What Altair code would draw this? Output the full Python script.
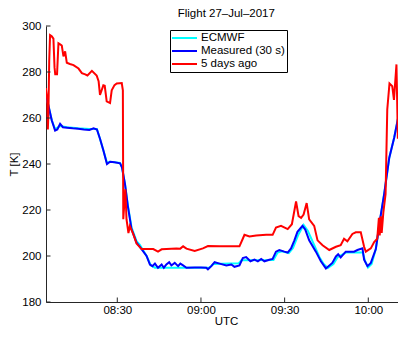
import altair as alt
import pandas as pd

# ---------------- data (minutes after 08:00 UTC, temperature in K) ----------------
chart_title = "Flight 27\u2013Jul\u20132017"
series_names = ["ECMWF", "Measured (30 s)", "5 days ago"]
series_colors = ["#00ffff", "#0000ff", "#ff0000"]

ecmwf_min = [4.4, 5.2, 6.5, 7.7, 9.5, 12, 16, 20, 22.7, 23.8, 25, 26.3, 27.4, 31, 31.7, 32.75,
             33.8, 35.1, 36.9, 38.1, 40.5, 42, 43.5, 63, 64.5, 73.5, 74.5, 86, 87.5, 89, 91.5,
             93, 95, 96.8, 98.3, 100.5, 102.5, 104, 105.5, 107.5, 109, 110.5, 112, 118, 118.8,
             119.9, 121.2, 122.7, 124.4, 125.7, 127.5, 129.3, 131, 132.75, 133.5]
ecmwf_T = [270, 266, 259, 255.2, 256.5, 256, 255.5, 255.2, 255.2, 251, 246, 240.5, 241, 240.5,
           238.5, 231.4, 222, 212.5, 206.5, 204.8, 200, 196, 194.9, 194.9, 196.5, 196.8, 198.2,
           198.3, 201.5, 202, 201.2, 203.5, 209.5, 213.5, 211, 205, 199.5, 196.5, 194.8, 196.5,
           199.5, 200.5, 201.5, 201.5, 198, 195, 196.5, 203, 217, 227, 242.6, 251.5, 262, 270.6,
           272]

meas_min = [4.4, 5.2, 6.5, 7.7, 8.5, 9.5, 10.5, 12, 14, 16, 18, 20, 21.5, 22.7, 23.8, 25, 26.3,
            27.4, 29, 31, 31.7, 32.75, 33.8, 35.1, 36.9, 38.1, 40.5, 41.7, 42.6, 43.5, 44.6,
            45.9, 46.7, 47.6, 48.6, 49.4, 50.6, 51.8, 52.6, 53.6, 54.8, 57.75, 60, 61.9, 62.5,
            63.7, 64.9, 66.7, 69.1, 70.9, 72, 73.8, 75, 76.2, 77.75, 79.2, 80.4, 81.6, 82.75,
            84.5, 85.7, 86.9, 88.1, 89.9, 91.1, 92.3, 93.5, 94.6, 96.4, 97.4, 98.8, 101.2, 103,
            104.8, 107.1, 108.4, 109.2, 110.1, 111.9, 114.9, 116.1, 117.9, 118.5, 119.7, 120.9,
            122.7, 124.4, 125.7, 127.5, 129.3, 131, 132.75, 133.5]
meas_T = [270.5, 266, 259, 254.5, 255, 257.5, 256, 255.8, 255.5, 255.3, 255, 254.8, 255.5, 255,
          251, 246, 240, 241, 240.8, 240.3, 238.5, 231.4, 221.6, 211.7, 205.8, 204, 200, 196.3,
          195.6, 196.7, 194.9, 196.3, 194.9, 196.3, 197.3, 195.9, 197, 195.6, 196.7, 195.9,
          194.9, 195, 195, 194.9, 194.2, 195.6, 197.3, 196.7, 195.9, 196.3, 195.3, 195.9, 199.1,
          199.5, 197.7, 198.4, 197.7, 198.7, 197.7, 198.4, 198.7, 201.9, 202.6, 201.9, 201.5,
          203.3, 206.8, 210.5, 213.1, 211.5, 206.8, 201.9, 197.7, 194.6, 197, 199.8, 200.8,
          199.4, 201.9, 201.9, 202.6, 203.3, 198.4, 195.6, 197, 203, 217.3, 227, 242.6, 251.5,
          262, 270.6, 272]

ago_min = [4.4, 4.9, 5.1, 5.3, 5.6, 5.9, 6.5, 7.1, 7.5, 7.75, 8.4, 8.9, 9.5, 10.1, 10.7, 11.3,
           11.9, 13, 14.3, 16.1, 17.3, 18.5, 19.3, 20.9, 22.6, 23.3, 23.8, 25, 25.5, 26.2, 27.4,
           28, 29, 29.8, 31.6, 32.0, 32.15, 32.6, 32.9, 33.3, 34, 34.5, 35.7, 36.9, 38.7, 42.9,
           44.6, 45.9, 51.2, 52.6, 53.6, 54.8, 57.75, 60.7, 62.5, 66.7, 73.8, 75, 75.6, 77.4,
           79.8, 83.4, 85.7, 86.9, 88.7, 91.1, 92.6, 94.1, 95, 95.9, 96.8, 97.9, 98.8, 100.6,
           101.8, 103.6, 106, 108.4, 110.1, 111.3, 112.5, 114.3, 115.5, 117.3, 118.5, 119.1,
           120.9, 122.1, 123.2, 123.8, 124.1, 124.5, 124.8, 125.4, 126.2, 126.8, 127.6, 128.6,
           129.2, 130.1, 130.6, 131.9, 132.3, 133.5]
ago_T = [273, 268, 255, 262, 285, 296, 295.5, 294.5, 282, 279, 279, 292.5, 292, 291.5, 286.8,
         289, 284, 283.5, 283, 281.5, 279.5, 279, 278.5, 280.5, 278.5, 276, 270, 274.2, 274,
         267.2, 266.5, 272, 274.3, 275, 275.2, 272, 216, 224, 229, 216, 210, 213, 209.6, 205.4,
         203, 203, 201.9, 202.9, 203.3, 203.2, 204.2, 203.2, 202.2, 203.3, 204.3, 204.2, 204.2,
         207.5, 209.2, 208.5, 208.9, 209.2, 209.2, 212.4, 213.1, 211.7, 213.8, 223.7, 217.3,
         216.6, 218, 223, 215.9, 213.1, 206.8, 204.7, 202.6, 204, 204.7, 207.5, 206.4, 209.6,
         210.3, 210.3, 204, 201.9, 203.3, 206.1, 207.5, 216.6, 208.9, 217.3, 210, 219, 227,
         263.7, 275, 273.8, 267.9, 283.3, 251, 282.6, 276, 273.5]

x_tick_values = [30, 60, 90, 120]
x_tick_labels = ["08:30", "09:00", "09:30", "10:00"]
y_tick_values = [180, 200, 220, 240, 260, 280, 300]

W, H = 352, 276
X_DOMAIN = [4.44, 4.44 + W / 2.789]
Y_DOMAIN = [180, 300]

# ---------------- table ----------------
frames = []
for name, xs, ys in zip(series_names, [ecmwf_min, meas_min, ago_min], [ecmwf_T, meas_T, ago_T]):
    frames.append(pd.DataFrame({"min": xs, "T": ys, "series": name, "idx": range(len(xs))}))
df = pd.concat(frames, ignore_index=True)

FONT = "Liberation Sans"
AX = "#262626"
FS = 11.5

label_expr = "".join(f"datum.value == {v} ? '{l}' : " for v, l in zip(x_tick_values, x_tick_labels)) + "''"

xscale = alt.Scale(domain=X_DOMAIN, nice=False, zero=False)
yscale = alt.Scale(domain=Y_DOMAIN, nice=False, zero=False)

x_enc = alt.X("min:Q", scale=xscale,
              axis=alt.Axis(values=x_tick_values, labelExpr=label_expr, title="UTC",
                            ticks=False, tickSize=0, grid=False, labelPadding=11.5,
                            labelBaseline="alphabetic", titleX=180, titleY=22.5,
                            titleBaseline="alphabetic", titleAlign="center"))
y_enc = alt.Y("T:Q", scale=yscale,
              axis=alt.Axis(values=y_tick_values, title="T [K]", ticks=False, tickSize=0,
                            grid=False, labelPadding=5, titleAngle=270, titleX=-31.3,
                            titleY=H / 2, titleBaseline="middle", titleAlign="center"))
color_enc = alt.Color("series:N", scale=alt.Scale(domain=series_names, range=series_colors),
                      legend=alt.Legend(orient="none", legendX=124, legendY=4, title=None,
                                        strokeColor="black", fillColor="white", padding=2,
                                        symbolType="M-2.5,0H2.5", symbolSize=100,
                                        symbolStrokeWidth=2, symbolOffset=6.5, labelOffset=10.5,
                                        labelFontSize=FS, labelFont=FONT, labelColor="black",
                                        rowPadding=1))

layers = []
for name in series_names:
    layers.append(
        alt.Chart(df).transform_filter(alt.datum.series == name)
        .mark_line(strokeWidth=2, clip=True)
        .encode(x=x_enc, y=y_enc, color=color_enc, order="idx:Q")
    )

# inward tick marks (MATLAB style)
xt = alt.Chart(pd.DataFrame({"min": x_tick_values})).mark_rule(color=AX, strokeWidth=1).encode(
    x=x_enc, y=alt.value(H), y2=alt.value(H - 4.5))
yt = alt.Chart(pd.DataFrame({"T": y_tick_values})).mark_rule(color=AX, strokeWidth=1).encode(
    y=y_enc, x=alt.value(0), x2=alt.value(4.5))

title_layer = alt.Chart(pd.DataFrame({"t": [chart_title]})).mark_text(
    font=FONT, fontSize=FS, color="black", align="center", baseline="alphabetic").encode(
    text="t:N", x=alt.value(180.3), y=alt.value(-9.2))

chart = alt.layer(*layers, xt, yt, title_layer).properties(
    width=W, height=H,
    autosize=alt.AutoSizeParams(type="none"),
    padding={"left": 38, "top": 18, "right": 0, "bottom": 25},
).configure_view(stroke=None).configure_axis(
    labelFont=FONT, titleFont=FONT, labelFontSize=FS, titleFontSize=FS,
    titleFontWeight="normal", labelColor="black", titleColor="black",
    domainColor=AX, domainWidth=1,
)

chart.save("out.html", embed_options={"renderer": "svg", "actions": False})
